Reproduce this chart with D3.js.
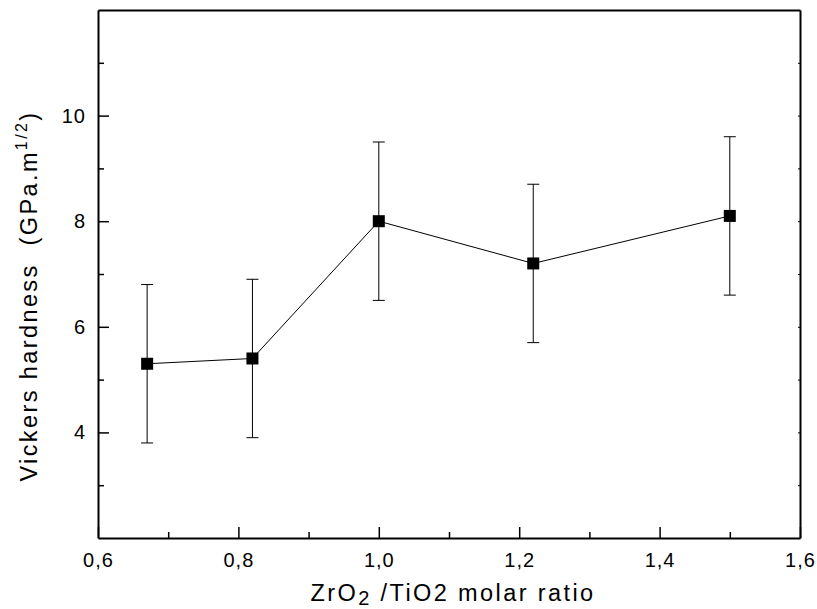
<!DOCTYPE html>
<html>
<head>
  <meta charset="utf-8">
  <style>
    body {margin: 0; background: #fff}
    text {font-family: Arial, "Liberation Sans", sans-serif; fill: #000}
    .axis path, .axis line {stroke: #000}
    .axis text {font-size: 20px; letter-spacing: 1px}
  </style>
</head>
<body>
  <script src="https://cdn.jsdelivr.net/npm/d3@7"></script>
  <script>
    // data
    var ratio = [0.67, 0.82, 1.0, 1.22, 1.5];
    var hardness = [5.3, 5.4, 8.0, 7.2, 8.1];
    var errors = [1.5, 1.5, 1.5, 1.5, 1.5];

    var xTicks = [0.6, 0.8, 1.0, 1.2, 1.4, 1.6];
    var xMinor = [0.7, 0.9, 1.1, 1.3, 1.5];
    var yTicks = [4, 6, 8, 10];
    var yMinor = [3, 5, 7, 9, 11];

    var width = 817, height = 609;
    var margin = {top: 10, right: 17, bottom: 71, left: 98};
    var w = width - margin.left - margin.right;
    var h = height - margin.top - margin.bottom;

    var x = d3.scaleLinear().domain([0.6, 1.6]).range([0, w]);
    var y = d3.scaleLinear().domain([2, 12]).range([h, 0]);

    var comma = function (d) { return d3.format(".1f")(d).replace(".", ","); };

    var svg = d3.select("body").append("svg")
      .attr("width", width)
      .attr("height", height)
      .append("g")
      .attr("transform", "translate(" + margin.left + "," + margin.top + ")");

    // bottom axis, ticks pointing in
    svg.append("g").attr("class", "axis")
      .attr("transform", "translate(0," + h + ")")
      .call(d3.axisBottom(x).tickValues(xTicks).tickFormat(comma)
        .tickSizeInner(-11).tickSizeOuter(0).tickPadding(15))
      .call(function (g) { g.select(".domain").attr("stroke-width", 2); g.selectAll("line").attr("stroke-width", 1.5); });

    svg.append("g").attr("class", "axis")
      .attr("transform", "translate(0," + h + ")")
      .call(d3.axisBottom(x).tickValues(xMinor).tickFormat("")
        .tickSizeInner(-6).tickSizeOuter(0))
      .call(function (g) { g.select(".domain").remove(); g.selectAll("line").attr("stroke-width", 1.5); });

    // left axis
    svg.append("g").attr("class", "axis")
      .call(d3.axisLeft(y).tickValues(yTicks).tickFormat(d3.format("d"))
        .tickSizeInner(-11).tickSizeOuter(0).tickPadding(12))
      .call(function (g) { g.select(".domain").attr("stroke-width", 2); g.selectAll("line").attr("stroke-width", 1.5); });

    svg.append("g").attr("class", "axis")
      .call(d3.axisLeft(y).tickValues(yMinor).tickFormat("")
        .tickSizeInner(-6).tickSizeOuter(0))
      .call(function (g) { g.select(".domain").remove(); g.selectAll("line").attr("stroke-width", 1.5); });

    // top and right frame
    svg.append("g").attr("class", "axis")
      .call(d3.axisTop(x).tickValues([]).tickSizeOuter(0))
      .call(function (g) { g.select(".domain").attr("stroke-width", 2); });

    svg.append("g").attr("class", "axis")
      .attr("transform", "translate(" + w + ",0)")
      .call(d3.axisRight(y).tickValues(yTicks.concat(yMinor)).tickFormat("")
        .tickSizeInner(-2).tickSizeOuter(0))
      .call(function (g) { g.select(".domain").attr("stroke-width", 2); });

    var pts = ratio.map(function (r, i) { return {x: r, y: hardness[i], e: errors[i]}; });

    // error bars
    var eb = svg.selectAll(".err").data(pts).enter().append("g").attr("class", "err")
      .attr("stroke", "#000").attr("stroke-width", 1);
    eb.append("line")
      .attr("x1", function (d) { return x(d.x); }).attr("x2", function (d) { return x(d.x); })
      .attr("y1", function (d) { return y(d.y - d.e); }).attr("y2", function (d) { return y(d.y + d.e); });
    eb.append("line")
      .attr("x1", function (d) { return x(d.x) - 6; }).attr("x2", function (d) { return x(d.x) + 6; })
      .attr("y1", function (d) { return y(d.y + d.e); }).attr("y2", function (d) { return y(d.y + d.e); });
    eb.append("line")
      .attr("x1", function (d) { return x(d.x) - 6; }).attr("x2", function (d) { return x(d.x) + 6; })
      .attr("y1", function (d) { return y(d.y - d.e); }).attr("y2", function (d) { return y(d.y - d.e); });

    // connecting line
    var line = d3.line().x(function (d) { return x(d.x); }).y(function (d) { return y(d.y); });
    svg.append("path").datum(pts)
      .attr("d", line)
      .attr("fill", "none")
      .attr("stroke", "#000")
      .attr("stroke-width", 1);

    // square markers
    svg.selectAll(".pt").data(pts).enter().append("rect").attr("class", "pt")
      .attr("x", function (d) { return x(d.x) - 6; })
      .attr("y", function (d) { return y(d.y) - 6; })
      .attr("width", 12).attr("height", 12)
      .attr("fill", "#000");

    // x title
    var xt = svg.append("text")
      .attr("x", w / 2 + 4)
      .attr("y", h + 63)
      .attr("text-anchor", "middle")
      .style("font-size", "23.5px")
      .style("letter-spacing", "2.4px");
    xt.append("tspan").text("ZrO");
    xt.append("tspan").attr("dy", 4).style("font-size", "20px").text("2");
    xt.append("tspan").attr("dy", -4).text(" /TiO2 molar ratio");

    // y title
    var yt = svg.append("text")
      .attr("transform", "translate(" + (37 - margin.left) + "," + (296 - margin.top) + ") rotate(-90)")
      .attr("text-anchor", "middle")
      .style("font-size", "23.5px")
      .style("letter-spacing", "2.4px")
      .style("white-space", "pre");
    yt.append("tspan").text("Vickers hardness  (GPa.m");
    yt.append("tspan").attr("dy", -10).style("font-size", "16px").text("1/2");
    yt.append("tspan").attr("dy", 10).text(")");
  </script>
</body>
</html>
